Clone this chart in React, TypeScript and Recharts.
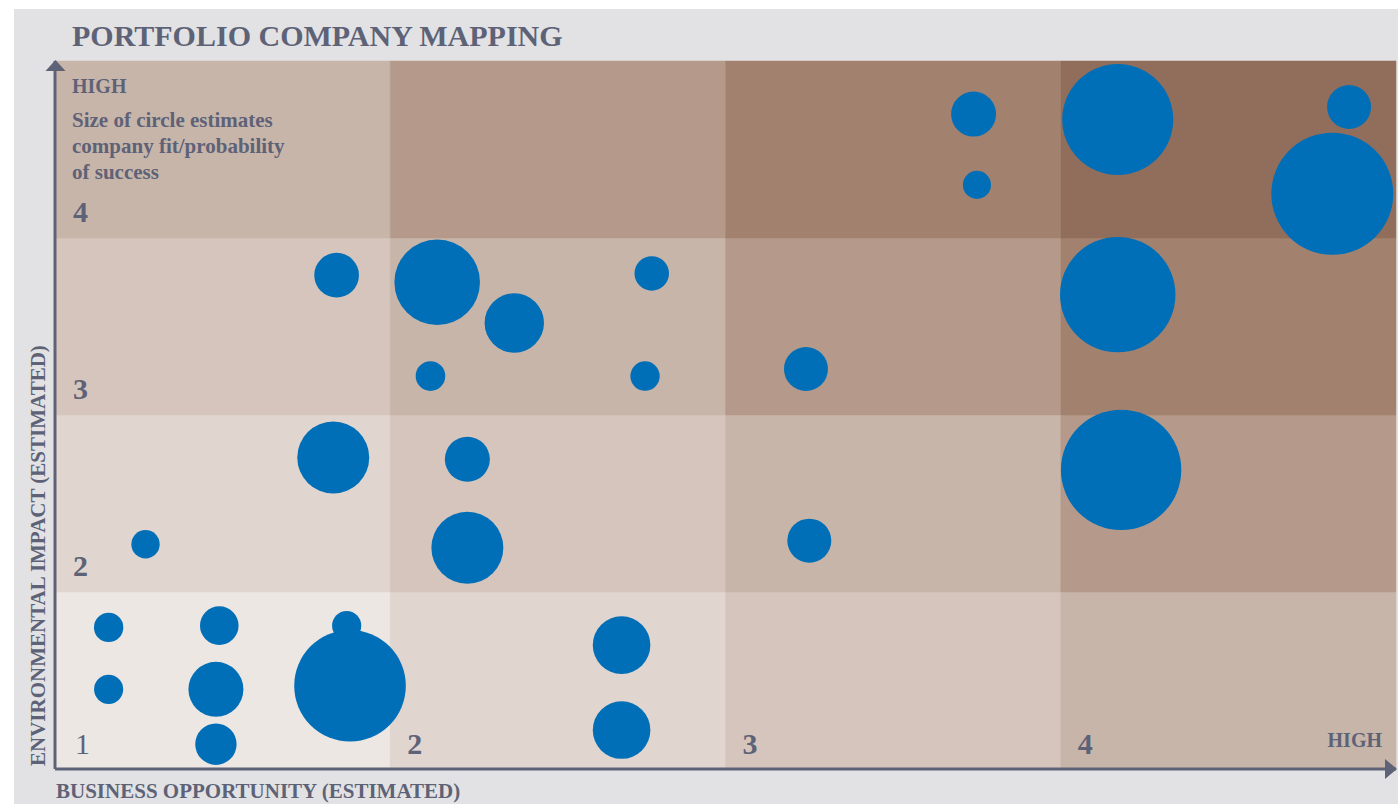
import { ScatterChart, Scatter, XAxis, YAxis, ZAxis, ReferenceArea } from 'recharts'

// one entry per portfolio company
const opportunity = [0.16, 0.16, 0.49, 0.48, 0.48, 0.87, 0.88, 0.84, 0.83, 0.27, 1.14, 1.37, 1.12, 1.78, 1.76, 1.23, 1.23, 1.69, 1.69, 2.74, 2.75, 2.24, 2.25, 3.17, 3.86, 3.81, 3.17, 3.18]
const impact = [0.8, 0.45, 0.81, 0.45, 0.14, 0.81, 0.47, 2.79, 1.76, 1.27, 2.75, 2.52, 2.22, 2.8, 2.22, 1.75, 1.25, 0.7, 0.22, 3.7, 3.3, 2.26, 1.29, 3.67, 3.74, 3.25, 2.68, 1.69]
const fit = [5.8, 5.7, 10, 20.3, 11.5, 5.7, 83.7, 13.4, 34.8, 5.4, 49.2, 23.7, 5.9, 8, 5.8, 13.6, 34.8, 22.3, 22.3, 13.6, 5.3, 13, 13, 82.8, 13, 100, 89.5, 97.4]

const columnTicks = [0, 1, 2, 3]
const columnLabels = ['1', '2', '3', '4']
const rowTicks = [1, 2, 3]
const rowLabels = ['2', '3', '4']

const shades = ['#ece7e3', '#e0d5cf', '#d6c5bc', '#c8b5a9', '#b59a8b', '#a2826f', '#916e5b']

const ink = '#5e6277'
const serif = '"Liberation Serif", "Times New Roman", serif'

const companies = opportunity.map((x, i) => ({ x, y: impact[i], z: fit[i] }))

const cells: { x1: number; x2: number; y1: number; y2: number; fill: string }[] = []
for (let c = 0; c < 4; c++) {
  for (let r = 0; r < 4; r++) {
    cells.push({ x1: c, x2: c + 1, y1: r, y2: r + 1, fill: shades[c + r] })
  }
}

function ColumnTick(props: any) {
  const { x, y, payload } = props
  const i = columnTicks.indexOf(payload.value)
  return (
    <text
      x={x + (i === 0 ? 20 : 17)}
      y={y - 15}
      fontSize={30}
      fontWeight={i === 0 ? 'normal' : 'bold'}
      fontFamily={serif}
      fill={ink}
    >
      {columnLabels[i]}
    </text>
  )
}

function RowTick(props: any) {
  const { x, y, payload } = props
  const i = rowTicks.indexOf(payload.value)
  return (
    <text x={x + 18} y={y - 16} fontSize={30} fontWeight="bold" fontFamily={serif} fill={ink}>
      {rowLabels[i]}
    </text>
  )
}

export default function App() {
  return (
    <div style={{ position: 'absolute', left: 0, top: 0, width: 1398, height: 804, fontFamily: serif }}>
      <div style={{ position: 'absolute', left: 14, top: 9, width: 1384, height: 795, background: '#e2e2e4' }} />
      <div style={{ position: 'absolute', left: 0, top: 0 }}>
        <ScatterChart width={1398} height={804} margin={{ top: 61, right: 2, bottom: 34, left: 54 }}>
          {cells.map((c, i) => (
            <ReferenceArea
              key={i}
              x1={c.x1}
              x2={c.x2}
              y1={c.y1}
              y2={c.y2}
              fill={c.fill}
              fillOpacity={1}
              stroke={c.fill}
              strokeWidth={0.5}
            />
          ))}
          <XAxis
            type="number"
            dataKey="x"
            domain={[0, 4]}
            ticks={columnTicks}
            height={1}
            tickSize={0}
            tickMargin={0}
            tickLine={false}
            tick={<ColumnTick />}
            axisLine={{ stroke: ink, strokeWidth: 3 }}
          />
          <YAxis
            type="number"
            dataKey="y"
            domain={[0, 4]}
            ticks={rowTicks}
            width={1}
            tickSize={0}
            tickMargin={0}
            tickLine={false}
            tick={<RowTick />}
            axisLine={{ stroke: ink, strokeWidth: 3 }}
          />
          <ZAxis type="number" dataKey="z" domain={[0, 100]} range={[0, Math.PI * 61 * 61]} />
          <Scatter data={companies} fill="#006fb8" isAnimationActive={false} />
        </ScatterChart>
      </div>
      <svg width={1398} height={804} style={{ position: 'absolute', left: 0, top: 0, pointerEvents: 'none' }}>
        <g fontFamily={serif} fill={ink} fontWeight="bold">
          <text x={72} y={46} fontSize={30}>PORTFOLIO COMPANY MAPPING</text>
          <text x={72} y={93} fontSize={20}>HIGH</text>
          <text x={72} y={127} fontSize={21}>Size of circle estimates</text>
          <text x={72} y={153} fontSize={21}>company fit/probability</text>
          <text x={72} y={179} fontSize={21}>of success</text>
          <text x={1382} y={747} fontSize={20} textAnchor="end">HIGH</text>
          <text x={56} y={798} fontSize={21}>BUSINESS OPPORTUNITY (ESTIMATED)</text>
          <text x={45} y={766} fontSize={21} transform="rotate(-90 45 766)">ENVIRONMENTAL IMPACT (ESTIMATED)</text>
        </g>
        <polygon points="45.5,71 55.5,60 65.5,71" fill={ink} />
        <polygon points="1385,759 1397,769 1385,779" fill={ink} />
      </svg>
    </div>
  )
}
